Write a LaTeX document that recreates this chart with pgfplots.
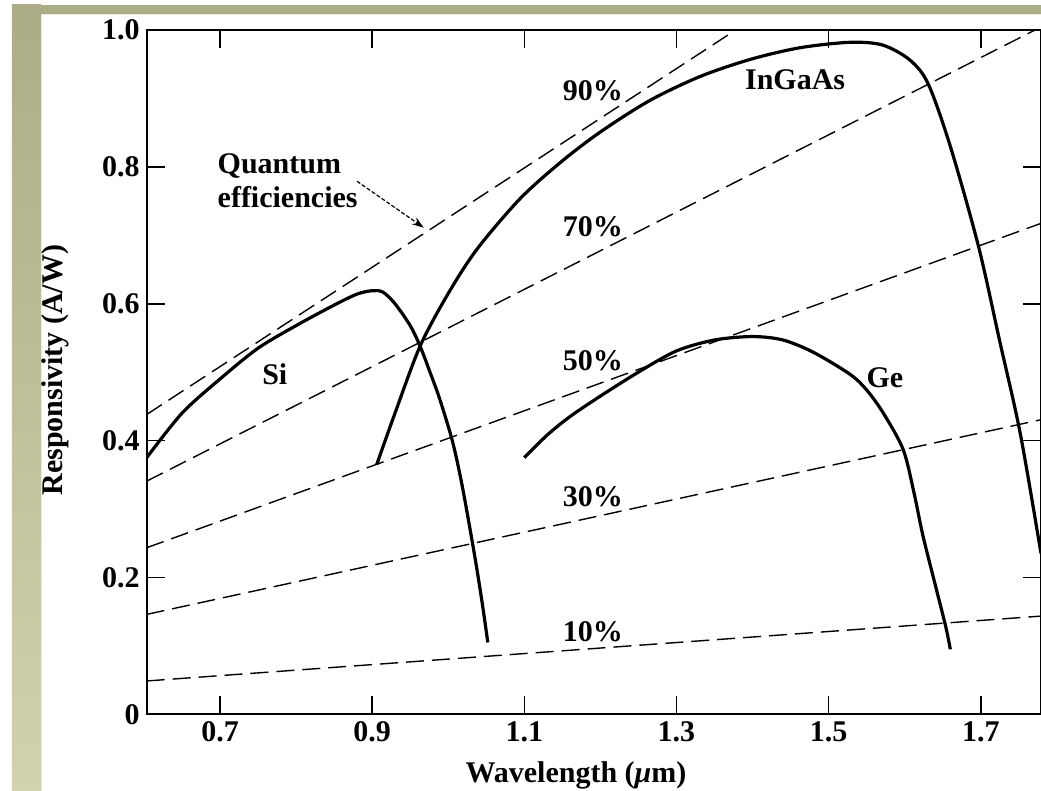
\documentclass[border=0pt]{standalone}
\usepackage{fontspec}
\setmainfont{Liberation Serif}
\usepackage{pgfplots}
\pgfplotsset{compat=1.18}
\usetikzlibrary{arrows.meta}
\definecolor{beigeTop}{RGB}{172,172,134}
\definecolor{beigeBot}{RGB}{210,210,174}
\definecolor{beigeEdge}{RGB}{236,236,218}
\newcommand{\lab}{\fontsize{15}{15}\selectfont\bfseries}
\begin{document}
\begin{tikzpicture}
\path[use as bounding box] (-73.35pt,-38.35pt) rectangle (447.15pt,357.15pt);
\fill[white] (-73.35pt,-38.35pt) rectangle (447.15pt,357.15pt);
\shade[top color=beigeTop, bottom color=beigeBot] (-67.35pt,-38.35pt) rectangle (-52.85pt,354.65pt);
\fill[beigeTop] (-67.35pt,350.15pt) rectangle (447.15pt,354.65pt);
\draw[beigeEdge, line width=0.6pt] (-52.6pt,-38.35pt) -- (-52.6pt,349.9pt) -- (447.15pt,349.9pt);
\begin{axis}[
  at={(0pt,0pt)}, anchor=south west,
  scale only axis, width=447.15pt, height=342.15pt,
  xmin=0.6036, xmax=1.7792, ymin=0, ymax=1,
  xtick={0.7,0.9,1.1,1.3,1.5,1.7},
  xticklabels={0.7,0.9,1.1,1.3,1.5,1.7},
  ytick={0,0.2,0.4,0.6,0.8,1.0},
  yticklabels={0,0.2,0.4,0.6,0.8,1.0},
  major tick length=9pt,
  tick style={line width=0.8pt, black},
  axis line style={line width=1pt},
  ticklabel style={font=\lab},
  /pgf/number format/assume math mode=true,
  xlabel={Wavelength ({\itshape μ}m)},
  xlabel style={font=\lab, at={(axis description cs:0.48,0)}, anchor=center, yshift=-30.4pt},
  ylabel={Responsivity (A/W)},
  ylabel style={font=\lab, at={(axis description cs:-0.1025,0.503)}, anchor=center},
  every axis plot/.append style={black},
]
% quantum efficiency lines
\addplot[line width=0.7pt, dash pattern=on 9pt off 4pt] coordinates {(0.6036,0.4381) (1.3778,1.0)};
\addplot[line width=0.7pt, dash pattern=on 9pt off 4pt] coordinates {(0.6036,0.3407) (1.7714,1.0)};
\addplot[line width=0.7pt, dash pattern=on 9pt off 4pt] coordinates {(0.6036,0.2434) (1.7792,0.7174)};
\addplot[line width=0.7pt, dash pattern=on 9pt off 4pt] coordinates {(0.6036,0.1460) (1.7792,0.4305)};
\addplot[line width=0.7pt, dash pattern=on 9pt off 4pt] coordinates {(0.6036,0.0487) (1.7792,0.1435)};
% Si
\addplot[line width=1.6pt, smooth] coordinates {
 (0.6036,0.375) (0.65,0.44) (0.7,0.49) (0.75,0.535) (0.8,0.568) (0.85,0.598)
 (0.88,0.614) (0.9,0.619) (0.914,0.617) (0.93,0.6) (0.95,0.568) (0.963,0.538)
 (0.976,0.5) (0.989,0.46) (1.006,0.397) (1.019,0.33) (1.035,0.23) (1.045,0.16) (1.052,0.105)};
% InGaAs
\addplot[line width=1.6pt, smooth] coordinates {
 (0.906,0.365) (0.93,0.44) (0.963,0.538) (1.0,0.615) (1.038,0.68) (1.094,0.753)
 (1.147,0.806) (1.2,0.851) (1.265,0.897) (1.331,0.932) (1.397,0.957) (1.462,0.974)
 (1.528,0.982) (1.571,0.978) (1.607,0.956) (1.631,0.921) (1.66,0.83) (1.697,0.684)
 (1.725,0.545) (1.752,0.41) (1.7792,0.235)};
% Ge
\addplot[line width=1.6pt, smooth] coordinates {
 (1.1,0.375) (1.13,0.408) (1.16,0.435) (1.2,0.465) (1.25,0.50) (1.3,0.531)
 (1.35,0.547) (1.4,0.552) (1.44,0.547) (1.48,0.529) (1.528,0.497) (1.55,0.474)
 (1.572,0.44) (1.598,0.387) (1.612,0.325) (1.624,0.261) (1.64,0.19) (1.654,0.128) (1.66,0.095)};
% labels
\node[font=\lab] at (axis cs:1.19,0.911) {90\%};
\node[font=\lab] at (axis cs:1.19,0.713) {70\%};
\node[font=\lab] at (axis cs:1.19,0.516) {50\%};
\node[font=\lab] at (axis cs:1.19,0.318) {30\%};
\node[font=\lab] at (axis cs:1.19,0.121) {10\%};
\node[font=\lab] at (axis cs:1.456,0.928) {InGaAs};
\node[font=\lab] at (axis cs:0.772,0.497) {Si};
\node[font=\lab] at (axis cs:1.574,0.492) {Ge};
\node[font=\lab, anchor=base west, inner sep=0pt] at (axis cs:0.6964,0.790) {Quantum};
\node[font=\lab, anchor=base west, inner sep=0pt] at (axis cs:0.6964,0.741) {efficiencies};
\draw[line width=0.6pt, dash pattern=on 2pt off 1pt, -{Stealth[length=6pt,width=4pt]}] (axis cs:0.880,0.779) -- (axis cs:0.968,0.711);
\end{axis}
\end{tikzpicture}
\end{document}
